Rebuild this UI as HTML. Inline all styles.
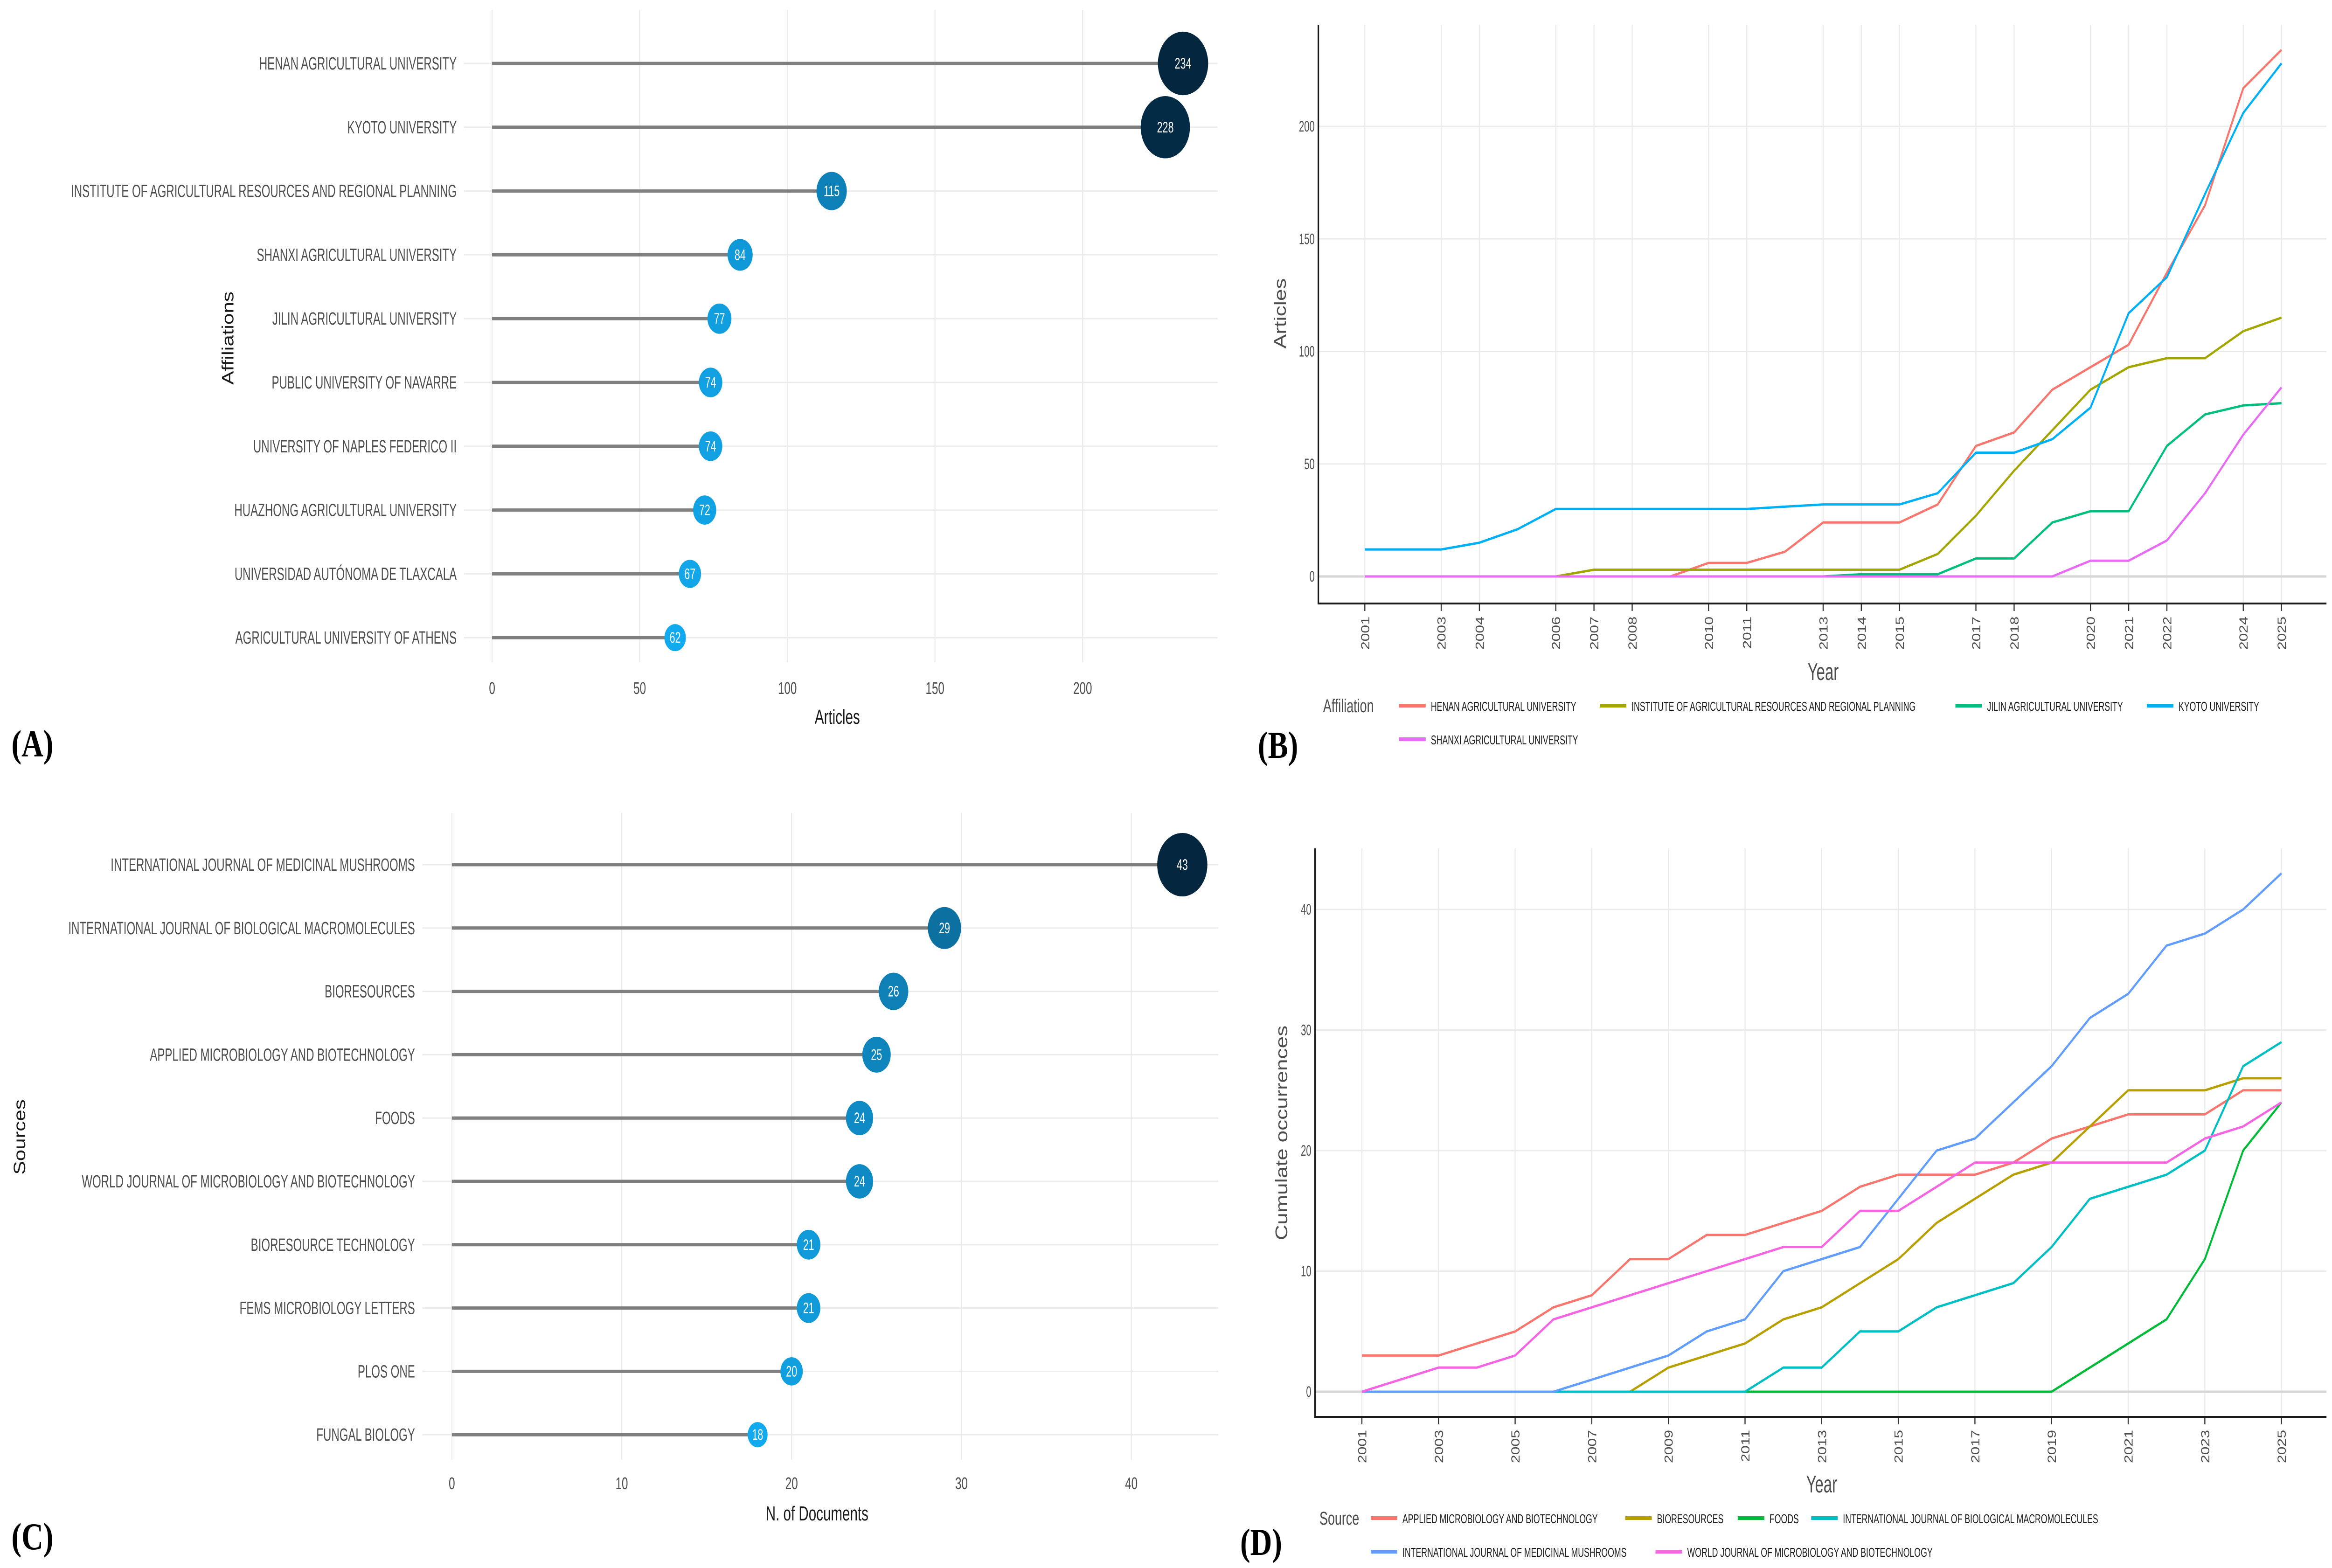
<!DOCTYPE html>
<html><head><meta charset="utf-8"><title>Affiliations and sources charts</title>
<style>html,body{margin:0;padding:0;background:#fff;width:100%;height:100%;overflow:hidden;}svg{display:block;width:100vw;height:100vh;}</style></head>
<body>
<svg id="fig" xmlns="http://www.w3.org/2000/svg" viewBox="0 0 6322 3362" preserveAspectRatio="none" font-family="'Liberation Sans', sans-serif" overflow="hidden">
<rect width="6322" height="3362" fill="#fff"/>
<g id="pA"></g>
<g id="pB"></g>
<g id="pC"></g>
<g id="pD"></g>
<text x="31" y="1622" font-family="'Liberation Serif', serif" font-weight="bold" font-size="82">(A)</text>
<text x="3410" y="1625" font-family="'Liberation Serif', serif" font-weight="bold" font-size="82">(B)</text>
<text x="31" y="3322" font-family="'Liberation Serif', serif" font-weight="bold" font-size="82">(C)</text>
<text x="3362" y="3334" font-family="'Liberation Serif', serif" font-weight="bold" font-size="82">(D)</text>
</svg>
<script>
// ---------- DATA ----------
const affNames = ["HENAN AGRICULTURAL UNIVERSITY","KYOTO UNIVERSITY","INSTITUTE OF AGRICULTURAL RESOURCES AND REGIONAL PLANNING","SHANXI AGRICULTURAL UNIVERSITY","JILIN AGRICULTURAL UNIVERSITY","PUBLIC UNIVERSITY OF NAVARRE","UNIVERSITY OF NAPLES FEDERICO II","HUAZHONG AGRICULTURAL UNIVERSITY","UNIVERSIDAD AUTÓNOMA DE TLAXCALA","AGRICULTURAL UNIVERSITY OF ATHENS"];
const affArticles = [234,228,115,84,77,74,74,72,67,62];
const affTicks = [0,50,100,150,200];

const srcNames = ["INTERNATIONAL JOURNAL OF MEDICINAL MUSHROOMS","INTERNATIONAL JOURNAL OF BIOLOGICAL MACROMOLECULES","BIORESOURCES","APPLIED MICROBIOLOGY AND BIOTECHNOLOGY","FOODS","WORLD JOURNAL OF MICROBIOLOGY AND BIOTECHNOLOGY","BIORESOURCE TECHNOLOGY","FEMS MICROBIOLOGY LETTERS","PLOS ONE","FUNGAL BIOLOGY"];
const srcDocs = [43,29,26,25,24,24,21,21,20,18];
const srcTicks = [0,10,20,30,40];

const years = [2001,2002,2003,2004,2005,2006,2007,2008,2009,2010,2011,2012,2013,2014,2015,2016,2017,2018,2019,2020,2021,2022,2023,2024,2025];
const bYearTicks = [2001,2003,2004,2006,2007,2008,2010,2011,2013,2014,2015,2017,2018,2020,2021,2022,2024,2025];
const bYTicks = [0,50,100,150,200];
const bSeriesNames = ["HENAN AGRICULTURAL UNIVERSITY","INSTITUTE OF AGRICULTURAL RESOURCES AND REGIONAL PLANNING","JILIN AGRICULTURAL UNIVERSITY","KYOTO UNIVERSITY","SHANXI AGRICULTURAL UNIVERSITY"];
const bHenan   = [0,0,0,0,0,0,0,0,0,6,6,11,24,24,24,32,58,64,83,93,103,135,165,217,234];
const bInst    = [0,0,0,0,0,0,3,3,3,3,3,3,3,3,3,10,27,47,65,83,93,97,97,109,115];
const bJilin   = [0,0,0,0,0,0,0,0,0,0,0,0,0,1,1,1,8,8,24,29,29,58,72,76,77];
const bKyoto   = [12,12,12,15,21,30,30,30,30,30,30,31,32,32,32,37,55,55,61,75,117,133,170,206,228];
const bShanxi  = [0,0,0,0,0,0,0,0,0,0,0,0,0,0,0,0,0,0,0,7,7,16,37,63,84];

const dYearTicks = [2001,2003,2005,2007,2009,2011,2013,2015,2017,2019,2021,2023,2025];
const dYTicks = [0,10,20,30,40];
const dSeriesNames = ["APPLIED MICROBIOLOGY AND BIOTECHNOLOGY","BIORESOURCES","FOODS","INTERNATIONAL JOURNAL OF BIOLOGICAL MACROMOLECULES","INTERNATIONAL JOURNAL OF MEDICINAL MUSHROOMS","WORLD JOURNAL OF MICROBIOLOGY AND BIOTECHNOLOGY"];
const dApplied = [3,3,3,4,5,7,8,11,11,13,13,14,15,17,18,18,18,19,21,22,23,23,23,25,25];
const dBiores  = [0,0,0,0,0,0,0,0,2,3,4,6,7,9,11,14,16,18,19,22,25,25,25,26,26];
const dFoods   = [0,0,0,0,0,0,0,0,0,0,0,0,0,0,0,0,0,0,0,2,4,6,11,20,24];
const dIJBM    = [0,0,0,0,0,0,0,0,0,0,0,2,2,5,5,7,8,9,12,16,17,18,20,27,29];
const dIJMM    = [0,0,0,0,0,0,1,2,3,5,6,10,11,12,16,20,21,24,27,31,33,37,38,40,43];
const dWorld   = [0,1,2,2,3,6,7,8,9,10,11,12,12,15,15,17,19,19,19,19,19,19,21,22,24];

// ---------- HELPERS ----------
const NS = "http://www.w3.org/2000/svg";
function mk(parent, tag, attrs) {
  const e = document.createElementNS(NS, tag);
  for (const k in attrs) e.setAttribute(k, attrs[k]);
  parent.appendChild(e);
  return e;
}
function txt(parent, x, y, s, size, fill, anchor, sx, rot) {
  const e = mk(parent, "text", {"font-size": size, fill: fill, "text-anchor": anchor || "start",
    transform: "translate(" + x + "," + y + ")" + (rot ? " rotate(" + rot + ")" : "") + " scale(" + (sx || 1) + ",1)"});
  e.textContent = s;
  return e;
}
function mix(a, b, t) {
  const r = Math.round(a[0] + (b[0] - a[0]) * t), g = Math.round(a[1] + (b[1] - a[1]) * t), bl = Math.round(a[2] + (b[2] - a[2]) * t);
  return "rgb(" + r + "," + g + "," + bl + ")";
}
const LIGHT = [18,170,238], DARK = [4,38,63];

// ---------- LOLLIPOP ----------
function lollipop(g, names, vals, ticks, cfg) {
  const xs = v => cfg.x0 + (v - ticks[0]) * cfg.pxPer;
  const ys = i => cfg.y0 + i * cfg.dy;
  const vmin = Math.min(...vals), vmax = Math.max(...vals);
  for (const t of ticks) {
    const l = mk(g, "line", {x1: xs(t), x2: xs(t), y1: cfg.top, y2: cfg.bottom, stroke: "#ebebeb", "stroke-width": 3});
    
    
    const tl = txt(g, xs(t), cfg.tickY, String(t), 36, "#4d4d4d", "middle", 0.85);
    
    
  }
  names.forEach((n, i) => {
    const gl = mk(g, "line", {x1: cfg.labelX + 20, x2: cfg.right, y1: ys(i), y2: ys(i), stroke: "#ebebeb", "stroke-width": 3});
    
    
    const lab = txt(g, cfg.labelX, ys(i) + 13, n, 38, "#4d4d4d", "end", 0.8);
    
    
    const stem = mk(g, "line", {x1: xs(0), x2: xs(vals[i]), y1: ys(i), y2: ys(i), stroke: "#7f7f7f", "stroke-width": 7});
    
    
    const t = (vals[i] - vmin) / (vmax - vmin);
    const r = cfg.ra + cfg.rb * vals[i];
    const c = mk(g, "circle", {cx: xs(vals[i]), cy: ys(i), r: r, fill: mix(LIGHT, DARK, t)});
    
    
    const vl = txt(g, xs(vals[i]), ys(i) + 11, String(vals[i]), 32, "#fff", "middle", 0.85);
    
    
  });
  const xt = txt(g, cfg.titleX, cfg.titleY, cfg.xTitle, 44, "#1a1a1a", "middle", 0.85);
  
  
  const yt = txt(g, cfg.yTitleX, cfg.yTitleY, cfg.yTitle, 44, "#1a1a1a", "middle", 1, -90);
  
  
}
lollipop(document.getElementById("pA"), affNames, affArticles, affTicks, {
  x0: 1334, pxPer: 8.005, y0: 136, dy: 136.8, top: 21, bottom: 1420, right: 3301, labelX: 1238,
  tickY: 1488, ra: 15, rb: 0.227, xTitle: "Articles", titleX: 2270, titleY: 1552,
  yTitle: "Affiliations", yTitleX: 633, yTitleY: 725});
lollipop(document.getElementById("pC"), srcNames, srcDocs, srcTicks, {
  x0: 1225, pxPer: 46.05, y0: 1854, dy: 135.8, top: 1743, bottom: 3130, right: 3303, labelX: 1125,
  tickY: 3193, ra: -2.5, rb: 1.64, xTitle: "N. of Documents", titleX: 2215, titleY: 3260,
  yTitle: "Sources", yTitleX: 68, yTitleY: 2438});

// ---------- LINE CHARTS ----------
function lineChart(g, series, colors, names, yTicks, xTicks, cfg) {
  const xs = yr => cfg.xA + (yr - 2001) * (cfg.xB - cfg.xA) / 24;
  const ys = v => cfg.y0 - v * cfg.pxPer;
  for (const t of xTicks) {
    const l = mk(g, "line", {x1: xs(t), x2: xs(t), y1: cfg.top, y2: cfg.bottom, stroke: "#ebebeb", "stroke-width": 3});
    
    
    mk(g, "line", {x1: xs(t), x2: xs(t), y1: cfg.bottom, y2: cfg.bottom + 16, stroke: "#333", "stroke-width": 3});
    const tl = txt(g, xs(t) + 12, cfg.bottom + 28, String(t), 32, "#4d4d4d", "end", 1, -90);
    
    
  }
  for (const t of yTicks) {
    const l = mk(g, "line", {x1: cfg.left, x2: cfg.right, y1: ys(t), y2: ys(t), stroke: t === 0 ? "#d6d6d6" : "#ebebeb", "stroke-width": t === 0 ? 5 : 3});
    
    
    const tl = txt(g, cfg.left - 10, ys(t) + 11, String(t), 32, "#4d4d4d", "end", 0.8);
    
    
  }
  series.forEach((s, k) => {
    const pts = s.map((v, i) => xs(years[i]).toFixed(1) + "," + ys(v).toFixed(1)).join(" ");
    const p = mk(g, "polyline", {points: pts, fill: "none", stroke: colors[k], "stroke-width": 5, "stroke-linejoin": "round"});
    
    
  });
  mk(g, "path", {d: "M" + cfg.left + "," + cfg.top + " V" + cfg.bottom + " H" + cfg.right, fill: "none", stroke: "#1a1a1a", "stroke-width": 4});
  const xt = txt(g, (cfg.xA + cfg.xB) / 2, cfg.yearY, "Year", 52, "#4d4d4d", "middle", 0.8);
  
  
  const yt = txt(g, cfg.yTitleX, cfg.yTitleY, cfg.yTitle, 46, "#4d4d4d", "middle", 1, -90);
  
  
  const lt = txt(g, cfg.legTitleX, cfg.legRows[0] + 14, cfg.legTitle, 40, "#4d4d4d", "start", 0.85);
  
  
  cfg.legPos.forEach((p, k) => {
    const y = cfg.legRows[p[0]];
    mk(g, "line", {x1: p[1], x2: p[1] + 72, y1: y, y2: y, stroke: colors[k], "stroke-width": 8});
    const e = txt(g, p[1] + 86, y + 11, names[k], 28, "#1a1a1a", "start", 0.8);
    
    
  });
}
lineChart(document.getElementById("pB"), [bHenan, bInst, bJilin, bKyoto, bShanxi],
  ["#f8766d", "#a3a500", "#00bf7d", "#00b0f6", "#e76bf3"], bSeriesNames, bYTicks, bYearTicks, {
  xA: 3700, xB: 6185, y0: 1236, pxPer: 4.825, left: 3574, right: 6307, top: 53, bottom: 1294,
  yearY: 1458, yTitle: "Articles", yTitleX: 3486, yTitleY: 672,
  legTitle: "Affiliation", legTitleX: 3587, legRows: [1513, 1585],
  legPos: [[0, 3793], [0, 4337], [0, 5301], [0, 5820], [1, 3793]]});
lineChart(document.getElementById("pD"), [dApplied, dBiores, dFoods, dIJBM, dIJMM, dWorld],
  ["#f8766d", "#b79f00", "#00ba38", "#00bfc4", "#619cff", "#f564e3"], dSeriesNames, dYTicks, dYearTicks, {
  xA: 3692, xB: 6185, y0: 2984, pxPer: 25.85, left: 3565, right: 6307, top: 1819, bottom: 3038,
  yearY: 3200, yTitle: "Cumulate occurrences", yTitleX: 3490, yTitleY: 2429,
  legTitle: "Source", legTitleX: 3577, legRows: [3255, 3327],
  legPos: [[0, 3716], [0, 4406], [0, 4711], [0, 4910], [1, 3716], [1, 4488]]});
</script>
</body></html>
